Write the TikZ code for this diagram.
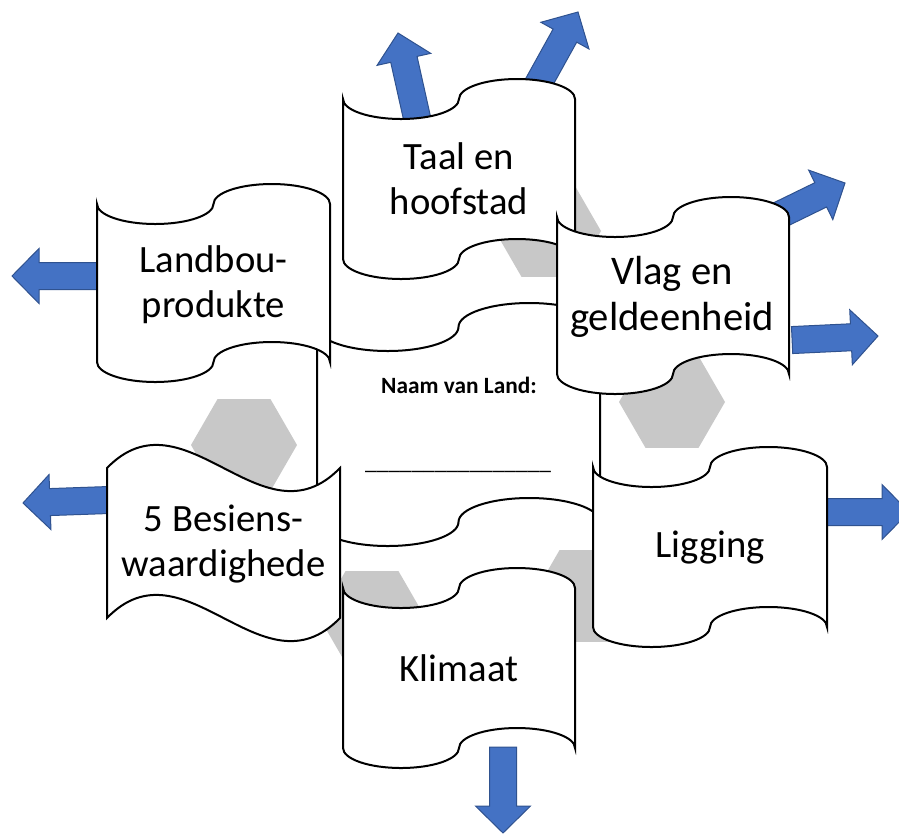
\documentclass[tikz,border=0pt]{standalone}
\usepackage{fontspec}
\setmainfont{Carlito}
\usetikzlibrary{calc}
\definecolor{land_blue}{RGB}{68, 114, 196}
\definecolor{land_edge}{RGB}{47, 82, 143}
\definecolor{land_hex}{RGB}{200, 200, 200}

\newcommand{\tapeshape}[5]{%
  \pgfmathsetmacro{\tapeq}{#3/2}%
  \filldraw[scroll] ({#1-#3},{#2-#4})
    arc[start angle=180, end angle=0, x radius=\tapeq, y radius=#5]
    arc[start angle=180, end angle=360, x radius=\tapeq, y radius=#5]
    -- ({#1+#3},{#2+#4})
    arc[start angle=0, end angle=-180, x radius=\tapeq, y radius=#5]
    arc[start angle=0, end angle=180, x radius=\tapeq, y radius=#5]
    -- cycle;}
\newcommand{\waveshape}[5]{%
  \filldraw[scroll] ({#1-#3},{#2-#4})
    .. controls ({#1-#3/3},{#2-#4-#5}) and ({#1+#3/3},{#2-#4+#5}) .. ({#1+#3},{#2-#4})
    -- ({#1+#3},{#2+#4})
    .. controls ({#1+#3/3},{#2+#4+#5}) and ({#1-#3/3},{#2+#4-#5}) .. ({#1-#3},{#2+#4})
    -- cycle;}
\newcommand{\blkarrow}[4]{%
  \filldraw[barrow, shift={(#1,#2)}, rotate=#3]
    (0,0) -- (-27,27.5) -- (-27,13.5) -- (-#4,13.5) -- (-#4,-13.5)
    -- (-27,-13.5) -- (-27,-27.5) -- cycle;}

\begin{document}
\begin{tikzpicture}[x=0.75pt, y=-0.75pt,
          scroll/.style={draw=black, fill=white, line width=1.5pt},
          hexa/.style={fill=land_hex},
          barrow/.style={fill=land_blue, draw=land_edge, line width=0.75pt},
          lbl/.style={align=center, inner sep=0pt,
                      font=\fontsize{29}{34}\selectfont}]
          \useasboundingbox (0,0) rectangle (899,833);
          \clip (0,0) rectangle (899,833);
          \foreach \hx/\hy in {548/231, 244/445, 672/402, 372/617, 586/596}
            \fill[hexa] (\hx,\hy) ++(0:53) -- ++(120:53) -- ++(180:53)
              -- ++(240:53) -- ++(300:53) -- ++(0:53) -- cycle;
          \blkarrow{398}{33}{102.6}{95}
          \blkarrow{578}{12}{61}{95}
          \blkarrow{845}{183}{26}{95}
          \blkarrow{878}{336}{2.7}{86}
          \blkarrow{12}{276}{180}{90}
          \blkarrow{23}{503}{182}{90}
          \blkarrow{909}{512}{0}{90}
          \blkarrow{503}{833}{-90}{86}
          \tapeshape{458.5}{424.5}{141.5}{97.5}{24}
          \node[font=\bfseries\fontsize{17.5}{21}\selectfont, anchor=base]
            (land) at (459,393) {Naam van Land:};
          \node[font=\fontsize{17.5}{21}\selectfont, anchor=base]
            (blank) at (458,469) {\_\_\_\_\_\_\_\_\_\_\_\_\_\_\_\_};
          \tapeshape{459}{179}{116}{80}{20}
          \node[lbl] (taal) at (459,179) {Taal en\\hoofstad};
          \tapeshape{213.5}{283}{116.5}{79}{20}
          \node[lbl] (landbou) at (213.5,285) {Landbou-\\produkte};
          \tapeshape{459}{668}{116}{80}{20}
          \node[lbl] (klimaat) at (459,668) {Klimaat};
          \waveshape{223.5}{543}{116.5}{75}{80}
          \node[lbl] (besiens) at (223.5,544) {5 Besiens-\\waardighede};
          \tapeshape{710}{547}{117}{80}{20}
          \node[lbl] (ligging) at (710,548) {Ligging};
          \tapeshape{673}{295.5}{116}{78.5}{20}
          \node[lbl, font=\fontsize{30.5}{35}\selectfont] (vlag) at (672,297)
            {Vlag en\\geldeenheid};
        \end{tikzpicture}
\end{document}
